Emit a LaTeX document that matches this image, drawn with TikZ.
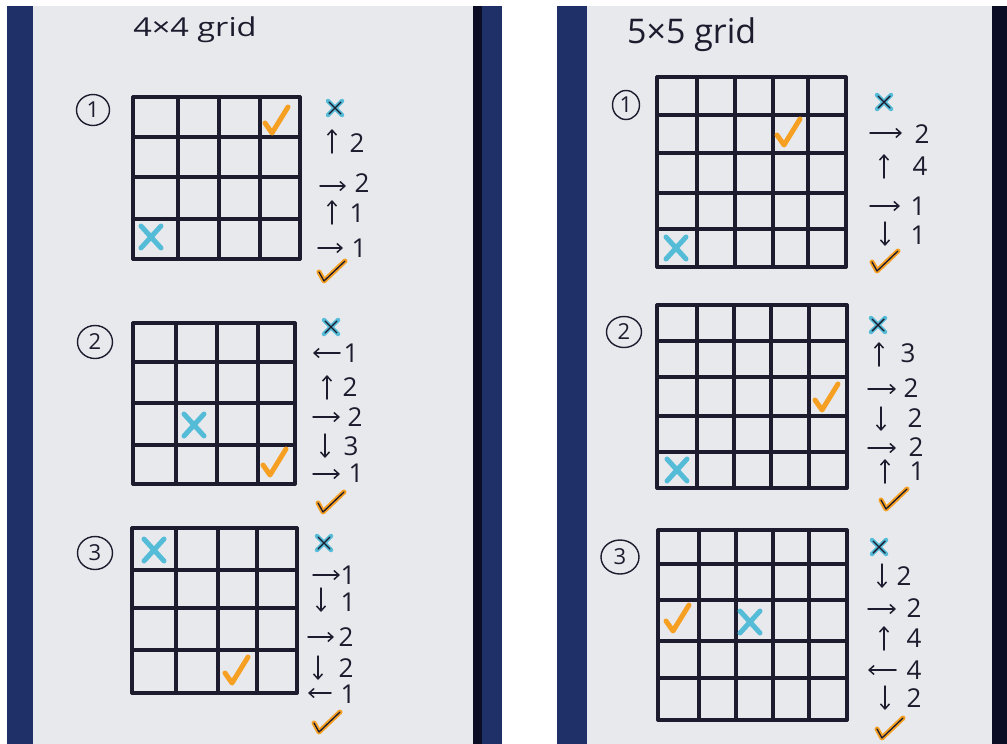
\documentclass[tikz,border=0pt]{standalone}
\usepackage{fontspec}
\setmainfont{Open Sans}
\usetikzlibrary{arrows.meta,shapes.geometric}
\definecolor{ink}{HTML}{1D1B2E}
\definecolor{paper}{HTML}{E8E9ED}
\definecolor{navy}{HTML}{1F2F68}
\definecolor{darkstrip}{HTML}{0A0D24}
\definecolor{xblue}{HTML}{55BCD8}
\definecolor{chkorange}{HTML}{F6A023}
\tikzset{
  gl/.style={draw=ink, line width=3.2pt, line cap=round},
  arr/.style={draw=ink, line width=1.5pt, line cap=round, -{Straight Barb[length=5pt,width=9pt,line width=1.5pt]}},
  num/.style={text=ink, inner sep=0pt, font=\fontsize{26}{26}\selectfont},
  circnum/.style={ellipse, draw=ink, line width=1.4pt, inner sep=0pt, text=ink, font=\fontsize{22}{22}\selectfont},
  bigx/.style={draw=xblue, line width=5pt, line cap=round},
  smallx/.style={draw=xblue, line width=4.5pt, line cap=round},
  smallxink/.style={draw=ink, line width=1.4pt, line cap=round},
  chk/.style={draw=chkorange, line width=5pt, line cap=round, line join=round},
  chkink/.style={draw=ink, line width=1.3pt, line cap=round, line join=round},
  title/.style={text=ink, inner sep=0pt, anchor=base west}
}
% grid: xs, ys, x0, x1, y0, y1
\newcommand\handgrid[6]{%
  \foreach \gx in {#1} {\draw[gl] (\gx,#5) -- (\gx,#6);}
  \foreach \gy in {#2} {\draw[gl] (#3,\gy) -- (#4,\gy);}}
\newcommand\bigcross[2]{%
  \draw[bigx] ({#1-10},{#2-11}) -- ({#1+10},{#2+11});
  \draw[bigx] ({#1+10},{#2-11}) -- ({#1-10},{#2+11});}
\newcommand\smallcross[2]{%
  \draw[smallx] ({#1-7},{#2-7}) -- ({#1+7},{#2+7});
  \draw[smallx] ({#1+7},{#2-7}) -- ({#1-7},{#2+7});
  \draw[smallxink] ({#1-6},{#2-6}) -- ({#1+6},{#2+6});
  \draw[smallxink] ({#1+6},{#2-6}) -- ({#1-6},{#2+6});}
\newcommand\bigcheck[2]{%
  \draw[chk] ({#1-12},{#2+3}) -- ({#1-5},{#2+13}) -- ({#1+11},{#2-13});}
\newcommand\listcheck[2]{%
  \draw[chk] ({#1-12},{#2+1}) -- ({#1-7},{#2+10}) -- ({#1+14},{#2-10});
  \draw[chkink] ({#1-12},{#2+1}) -- ({#1-7},{#2+10}) -- ({#1+14},{#2-10});}
\newcommand\rarr[3]{\draw[arr] (#1,#3) -- (#2,#3);}
\newcommand\larr[3]{\draw[arr] (#2,#3) -- (#1,#3);}
\newcommand\uarr[2]{\draw[arr] (#1,{#2+12}) -- (#1,{#2-12});}
\newcommand\darr[2]{\draw[arr] (#1,{#2-12}) -- (#1,{#2+12});}
\begin{document}
\begin{tikzpicture}[x=1pt,y=-1pt]
\useasboundingbox (0,0) rectangle (1007,744);
\fill[white] (0,0) rectangle (1007,744);
% ---------- left sheet ----------
\fill[navy] (7,6) rectangle (502,744);
\fill[darkstrip] (473,6) rectangle (482,744);
\fill[paper] (33,6) rectangle (473,744);
% ---------- right sheet ----------
\fill[navy] (557,6) rectangle (1007,744);
\fill[paper] (587,6) rectangle (992,744);
\fill[darkstrip] (992,6) rectangle (1007,744);

% ---------- titles ----------
\node[title, font=\fontsize{26}{26}\selectfont, xscale=1.25] (t4) at (133,36) {4×4 grid};
\node[title, font=\fontsize{34}{34}\selectfont] (t5) at (627,43) {5×5 grid};

% ================= LEFT 1 =================
\node[circnum, minimum width=33pt, minimum height=31pt] (cl1) at (93,110) {1};
\handgrid{133,178,219,260,300}{97,137,177,219,259}{133}{300}{97}{259}
\bigcross{151}{237}
\bigcheck{277}{120}
\smallcross{335}{108}
\uarr{332}{141}   \node[num] (l1a) at (357,143) {2};
\rarr{320}{346}{186} \node[num] (l1b) at (362,183) {2};
\uarr{332}{212}   \node[num] (l1c) at (357,213) {1};
\rarr{318}{343}{248} \node[num] (l1d) at (359,248) {1};
\listcheck{331}{271}

% ================= LEFT 2 =================
\node[circnum, minimum width=35pt, minimum height=33pt] (cl2) at (95,342) {2};
\handgrid{133,176,217,258,295}{323,362,403,445,484}{133}{295}{323}{484}
\bigcross{194}{425}
\bigcheck{275}{462}
\smallcross{331}{327}
\larr{313}{340}{353} \node[num] (l2a) at (351,353) {1};
\uarr{327}{387}   \node[num] (l2b) at (350,387) {2};
\rarr{313}{340}{417} \node[num] (l2c) at (355,417) {2};
\darr{325}{446}   \node[num] (l2d) at (351,446) {3};
\rarr{313}{340}{474} \node[num] (l2e) at (356,473) {1};
\listcheck{330}{502}

% ================= LEFT 3 =================
\node[circnum, minimum width=35pt, minimum height=33pt] (cl3) at (95,553) {3};
\handgrid{132,176,218,257,297}{528,570,608,650,693}{132}{297}{528}{693}
\bigcross{154}{550}
\bigcheck{237}{670}
\smallcross{324}{543}
\rarr{313}{340}{575} \node[num] (l3a) at (348,575) {1};
\darr{321}{600}   \node[num] (l3b) at (348,602) {1};
\rarr{308}{334}{637} \node[num] (l3c) at (346,637) {2};
\darr{318}{668}   \node[num] (l3d) at (346,668) {2};
\larr{308}{331}{693} \node[num] (l3e) at (348,694) {1};
\listcheck{326}{722}

% ================= RIGHT 1 =================
\node[circnum, minimum width=27pt, minimum height=29pt] (cr1) at (626,105) {1};
\handgrid{657,697,735,773,808,846}{77,115,153,193,229,267}{657}{846}{77}{267}
\bigcross{676}{248}
\bigcheck{789}{132}
\smallcross{884}{102}
\rarr{870}{902}{133} \node[num] (r1a) at (922,134) {2};
\uarr{884}{166}   \node[num] (r1b) at (920,166) {4};
\rarr{870}{900}{206} \node[num] (r1c) at (918,206) {1};
\darr{885}{234}   \node[num] (r1d) at (918,235) {1};
\listcheck{884}{261}

% ================= RIGHT 2 =================
\node[circnum, minimum width=35pt, minimum height=31pt] (cr2) at (624,332) {2};
\handgrid{657,697,734,771,809,847}{305,341,377,416,452,488}{657}{847}{305}{488}
\bigcross{677}{470}
\bigcheck{827}{397}
\smallcross{878}{325}
\uarr{879}{354}   \node[num] (r2a) at (908,353) {3};
\rarr{868}{896}{389} \node[num] (r2b) at (911,388) {2};
\darr{881}{419}   \node[num] (r2c) at (915,418) {2};
\rarr{868}{896}{448} \node[num] (r2d) at (916,447) {2};
\uarr{885}{471}   \node[num] (r2e) at (917,471) {1};
\listcheck{893}{499}

% ================= RIGHT 3 =================
\node[circnum, minimum width=38pt, minimum height=34pt] (cr3) at (620,557) {3};
\handgrid{658,699,736,773,809,847}{530,564,600,641,678,720}{658}{847}{530}{720}
\bigcheck{678}{618}
\bigcross{750}{622}
\smallcross{879}{547}
\darr{882}{576}   \node[num] (r3a) at (904,576) {2};
\rarr{868}{896}{609} \node[num] (r3b) at (914,608) {2};
\uarr{884}{638}   \node[num] (r3c) at (914,638) {4};
\larr{868}{896}{670} \node[num] (r3d) at (914,670) {4};
\darr{885}{698}   \node[num] (r3e) at (914,698) {2};
\listcheck{889}{728}
\end{tikzpicture}
\end{document}
